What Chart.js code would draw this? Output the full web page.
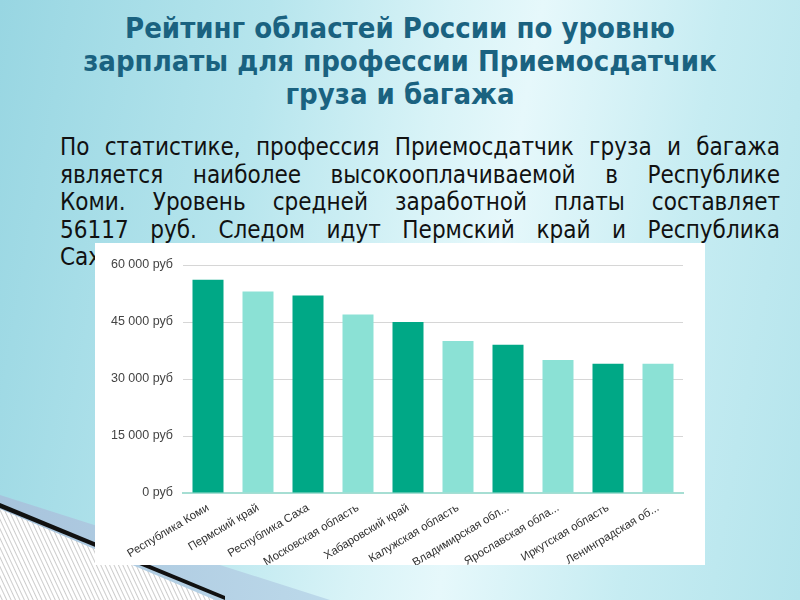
<!DOCTYPE html>
<html>
<head>
<meta charset="utf-8">
<script src="https://cdn.jsdelivr.net/npm/chart.js@4.4.1/dist/chart.umd.min.js"></script>
<style>
  html, body { margin: 0; padding: 0; }
  body {
    width: 800px; height: 600px; position: relative; overflow: hidden;
    background: linear-gradient(100deg, #98d6e2 0%, #b6e5ed 30%, #d8f3f7 50%, #e6f8fb 60%, #c6ecf2 80%, #b4e4ec 100%);
  }
  #deco { position: absolute; left: 0; top: 0; }
  .title {
    position: absolute; left: 0; width: 800px; text-align: center;
    font-family: "DejaVu Sans Condensed", "DejaVu Sans", sans-serif; font-weight: bold;
    font-size: 29px; color: #1a6280; line-height: 33px;
  }
  .para {
    position: absolute; left: 60px; width: 720px;
    font-family: "DejaVu Sans Condensed", "DejaVu Sans", sans-serif;
    font-size: 24px; color: #111; line-height: 27.5px;
  }
  .para div { text-align: justify; text-align-last: justify; white-space: nowrap; }
  .para div.last { text-align-last: left; }
  #box {
    position: absolute; left: 95px; top: 243px; width: 610px; height: 322px; background: #fff;
  }
</style>
</head>
<body>
<svg id="deco" width="800" height="600">
  <defs>
    <pattern id="hatch" width="4" height="4" patternUnits="userSpaceOnUse" patternTransform="rotate(-25)">
      <rect width="4" height="4" fill="#ffffff"/>
      <line x1="0" y1="0" x2="0" y2="4" stroke="#9a9a9a" stroke-width="1"/>
    </pattern>
    <linearGradient id="band" x1="0" y1="0" x2="1" y2="0">
      <stop offset="0" stop-color="#a7c3dc"/>
      <stop offset="1" stop-color="#bcd9ea"/>
    </linearGradient>
  </defs>
  <polygon points="0,495 330,600 0,600" fill="url(#band)"/>
  <polygon points="0,503 225,596 225,600 0,508" fill="#111"/>
  <polygon points="0,509 215,600 0,600" fill="url(#hatch)"/>
</svg>

<div class="title" style="top:12px">Рейтинг областей России по уровню</div>
<div class="title" style="top:45px">зарплаты для профессии Приемосдатчик</div>
<div class="title" style="top:78px">груза и багажа</div>

<div class="para" style="top:134px">
  <div>По статистике, профессия Приемосдатчик груза и багажа</div>
  <div>является наиболее высокооплачиваемой в Республике</div>
  <div>Коми. Уровень средней заработной платы составляет</div>
  <div>56117 руб. Следом идут Пермский край и Республика</div>
  <div class="last">Саха.</div>
</div>

<div id="box"><canvas id="salaryChart" width="610" height="322"></canvas></div>

<script>
var regions = ['Республика Коми', 'Пермский край', 'Республика Саха', 'Московская область', 'Хабаровский край',
  'Калужская область', 'Владимирская обл...', 'Ярославская обла...', 'Иркутская область', 'Ленинградская об...'];
var salaries = [56117, 53000, 52000, 47000, 45000, 40000, 39000, 35000, 34000, 34000];
var yTicks = [0, 15000, 30000, 45000, 60000];

var darkColor = '#00a886';
var lightColor = '#8be1d5';

window.drawSalaryChart = function () {
    if (!window.Chart) return;
    var canvas = document.getElementById('salaryChart');
    var ctx = canvas.getContext('2d');
    var colors = salaries.map(function (v, i) { return i % 2 === 0 ? darkColor : lightColor; });
    new Chart(ctx, {
        type: 'bar',
        data: {
            labels: regions,
            datasets: [{
                data: salaries,
                backgroundColor: colors,
                borderWidth: 0,
                barPercentage: 0.62,
                categoryPercentage: 1
            }]
        },
        options: {
            responsive: false,
            animation: false,
            layout: { padding: { top: 22, right: 22, left: 0, bottom: 0 } },
            plugins: {
                legend: { display: false },
                tooltip: { enabled: false }
            },
            scales: {
                x: {
                    grid: { display: false },
                    border: { display: true, color: '#a6ded3', width: 2 },
                    ticks: {
                        autoSkip: false, maxRotation: 31, minRotation: 31, padding: 0,
                        color: '#333', font: { family: 'Liberation Sans, Arial, sans-serif', size: 11.5 }
                    },
                    afterFit: function (scale) { scale.height = 72; }
                },
                y: {
                    min: 0, max: 60000,
                    afterBuildTicks: function (scale) {
                        scale.ticks = yTicks.map(function (v) { return { value: v }; });
                    },
                    grid: { color: '#d6d6d6', drawTicks: false },
                    border: { display: false },
                    ticks: {
                        padding: 10, color: '#444',
                        font: { family: 'Liberation Sans, Arial, sans-serif', size: 12.5 },
                        callback: function (v) {
                            return String(v).replace(/\B(?=(\d{3})+(?!\d))/g, ' ') + ' руб';
                        }
                    },
                    afterFit: function (scale) { scale.width = 88; }
                }
            }
        }
    });
};
window.drawSalaryChart();
</script>
</body>
</html>
